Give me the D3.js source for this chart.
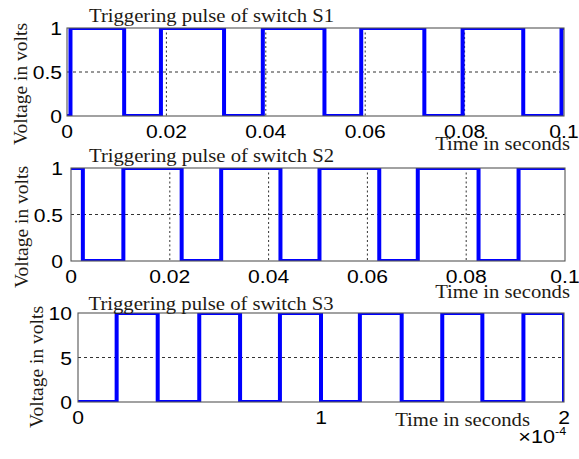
<!DOCTYPE html>
<html>
<head>
<meta charset="utf-8">
<script src="https://cdn.jsdelivr.net/npm/d3@7"></script>
<style>
  html, body { margin: 0; padding: 0; background: #fff; }
  svg { display: block; }
</style>
</head>
<body>
<svg id="chart" width="579" height="459"></svg>
<script>
// ---------------- data ----------------
const titles = ["Triggering pulse of switch S1", "Triggering pulse of switch S2", "Triggering pulse of switch S3"];
const yLabel = "Voltage in volts";
const xLabel = "Time in seconds";

// switch S1 (time in s, voltage in V) – step transitions
const s1Time = [0, 0.0007, 0.0115, 0.0189, 0.0316, 0.0394, 0.0518, 0.0592, 0.0719, 0.0796, 0.0918, 0.0995, 0.1];
const s1Volt = [0, 1, 0, 1, 0, 1, 0, 1, 0, 1, 0, 1, 1];

// switch S2
const s2Time = [0, 0.0024, 0.0106, 0.0224, 0.0304, 0.0424, 0.0503, 0.0624, 0.0702, 0.0825, 0.0906, 0.1];
const s2Volt = [1, 0, 1, 0, 1, 0, 1, 0, 1, 0, 1, 1];

// switch S3 (time in s, plotted in units of 1e-4 s)
const s3Time = [0, 0.159e-4, 0.328e-4, 0.499e-4, 0.667e-4, 0.831e-4, 1.0e-4, 1.16e-4, 1.332e-4, 1.499e-4, 1.664e-4, 1.833e-4, 2.0e-4];
const s3Volt = [0, 10, 0, 10, 0, 10, 0, 10, 0, 10, 0, 10, 0];

const x12Ticks = [0, 0.02, 0.04, 0.06, 0.08, 0.1];
const x12TickLabels = ["0", "0.02", "0.04", "0.06", "0.08", "0.1"];
const y12Ticks = [0, 0.5, 1];
const y12TickLabels = ["0", "0.5", "1"];
const x3Ticks = [0, 1e-4, 2e-4];
const x3TickLabels = ["0", "1", "2"];
const y3Ticks = [0, 5, 10];
const y3TickLabels = ["0", "5", "10"];

// ---------------- layout ----------------
const panels = [
  { left: 67, right: 564, top: 28, bottom: 116, xDom: [0, 0.1], yDom: [0, 1],
    t: s1Time, v: s1Volt, xt: x12Ticks, xtl: x12TickLabels, yt: y12Ticks, ytl: y12TickLabels,
    xGrid: [0.02, 0.04, 0.06, 0.08], yGrid: [0.5],
    title: titles[0], titleX: 211.5, titleY: 22,
    yLabX: 27, yLabY: 84, xLabX: 570, xLabY: 150, yTickGap: 5 },
  { left: 71, right: 565, top: 168, bottom: 261, xDom: [0, 0.1], yDom: [0, 1],
    t: s2Time, v: s2Volt, xt: x12Ticks, xtl: x12TickLabels, yt: y12Ticks, ytl: y12TickLabels,
    xGrid: [0.02, 0.04, 0.06, 0.08], yGrid: [0.5],
    title: titles[1], titleX: 211.5, titleY: 162,
    yLabX: 28, yLabY: 227, xLabX: 570, xLabY: 298, yTickGap: 8 },
  { left: 78, right: 564, top: 313, bottom: 402, xDom: [0, 2e-4], yDom: [0, 10],
    t: s3Time, v: s3Volt, xt: x3Ticks, xtl: x3TickLabels, yt: y3Ticks, ytl: y3TickLabels,
    xGrid: [], yGrid: [5],
    title: titles[2], titleX: 211, titleY: 310,
    yLabX: 43, yLabY: 367, xLabX: 530, xLabY: 426, yTickGap: 6 }
];

const SX = 1.14; // horizontal text stretch seen in the reference
const svg = d3.select("#chart");

function hText(g, x, y, str, opt) {
  return g.append("text")
    .attr("transform", `translate(${x},${y}) scale(${opt.sx || SX},1)`)
    .attr("text-anchor", opt.anchor || "start")
    .attr("font-family", opt.family || "'Liberation Sans', Arial, sans-serif")
    .attr("font-size", opt.size || 18.5)
    .attr("fill", opt.fill || "#000")
    .text(str);
}

panels.forEach((p, i) => {
  const g = svg.append("g");
  const x = d3.scaleLinear().domain(p.xDom).range([p.left, p.right]);
  const y = d3.scaleLinear().domain(p.yDom).range([p.bottom, p.top]);

  g.append("rect").attr("x", p.left).attr("y", p.top)
    .attr("width", p.right - p.left).attr("height", p.bottom - p.top).attr("fill", "#fff");

  // grid
  g.selectAll(".gx").data(p.xGrid).enter().append("line")
    .attr("x1", d => x(d)).attr("x2", d => x(d)).attr("y1", p.top).attr("y2", p.bottom)
    .attr("stroke", "#333").attr("stroke-width", 1).attr("stroke-dasharray", "2,2.5");
  g.selectAll(".gy").data(p.yGrid).enter().append("line")
    .attr("x1", p.left).attr("x2", p.right).attr("y1", d => y(d)).attr("y2", d => y(d))
    .attr("stroke", "#333").attr("stroke-width", 1).attr("stroke-dasharray", "3,3");

  // waveform
  const clipId = "clip" + i;
  svg.append("clipPath").attr("id", clipId).append("rect")
    .attr("x", p.left).attr("y", p.top).attr("width", p.right - p.left).attr("height", p.bottom - p.top);
  const pts = p.t.map((t, k) => [t, p.v[k]]);
  const line = d3.line().x(d => x(d[0])).y(d => y(d[1])).curve(d3.curveStepAfter);
  g.append("path").datum(pts).attr("d", line)
    .attr("fill", "none").attr("stroke", "#0000ff").attr("stroke-width", 4)
    .attr("stroke-linejoin", "miter").attr("clip-path", `url(#${clipId})`);

  // axes box
  g.append("rect").attr("x", p.left).attr("y", p.top)
    .attr("width", p.right - p.left).attr("height", p.bottom - p.top)
    .attr("fill", "none").attr("stroke", "#555").attr("stroke-width", 1.1);

  // x tick labels
  p.xt.forEach((t, k) => {
    hText(g, x(t), p.bottom + 22, p.xtl[k], { anchor: "middle" });
  });
  // y tick labels
  p.yt.forEach((t, k) => {
    hText(g, p.left - p.yTickGap, y(t) + 7, p.ytl[k], { anchor: "end" });
  });

  // title
  hText(g, p.titleX, p.titleY, p.title,
    { anchor: "middle", family: "'Liberation Serif', 'Times New Roman', serif", size: 18, sx: 1.15, fill: "#1e1a14" });
  // x label
  hText(g, p.xLabX, p.xLabY, xLabel,
    { anchor: "end", family: "'Liberation Serif', 'Times New Roman', serif", size: 18, sx: 1.15, fill: "#1e1a14" });
  // y label
  g.append("text")
    .attr("transform", `translate(${p.yLabX},${p.yLabY}) rotate(-90)`)
    .attr("text-anchor", "middle")
    .attr("font-family", "'Liberation Serif', 'Times New Roman', serif")
    .attr("font-size", 19.5).attr("fill", "#1e1a14")
    .text(yLabel);
});

// exponent label for S3 axis
hText(svg, 555, 443, "\u00d710", { anchor: "end", size: 19 });
hText(svg, 555, 435, "-4", { anchor: "start", size: 11 });
</script>
</body>
</html>
